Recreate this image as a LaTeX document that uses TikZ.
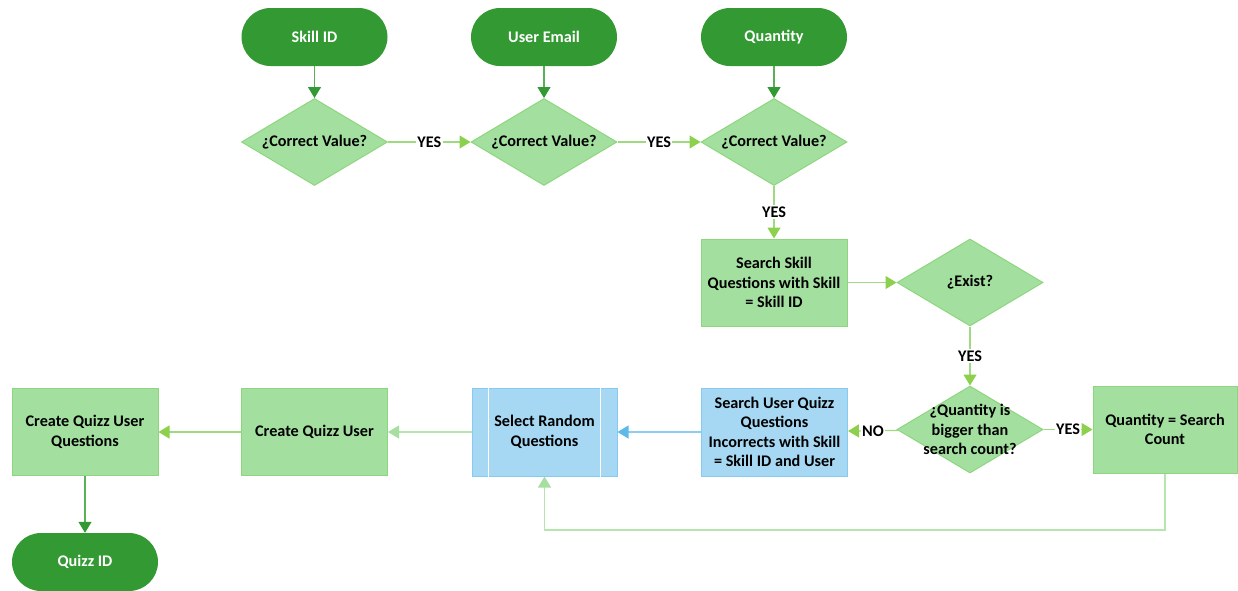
\documentclass[tikz,border=0pt]{standalone}
\usepackage{fontspec}
\setmainfont{Carlito}
\usetikzlibrary{shapes.geometric,arrows.meta}
\definecolor{dkgreen}{HTML}{339933}
\definecolor{midgreen}{HTML}{58B058}
\definecolor{ltfill}{HTML}{A3E0A0}
\definecolor{ltborder}{HTML}{8ED67E}
\definecolor{yesline}{HTML}{9FDA80}
\definecolor{yeshead}{HTML}{8CD04E}
\definecolor{paleline}{HTML}{B4E6AE}
\definecolor{palehead}{HTML}{A6DFA0}
\definecolor{bluefill}{HTML}{A6D8F4}
\definecolor{blueborder}{HTML}{86CBEF}
\definecolor{blueline}{HTML}{8ACFF2}
\definecolor{bluehead}{HTML}{5DB9EA}
\begin{document}
\begin{tikzpicture}[x=1pt,y=-1pt,
  font=\fontsize{16.2}{19.5}\selectfont\bfseries,
  term/.style={rectangle, rounded corners=29pt, fill=dkgreen, text=white,
    minimum width=146pt, minimum height=58pt, inner sep=0pt},
  dia/.style={diamond, draw=ltborder, fill=ltfill, line width=1pt, inner sep=0pt,
    aspect=1.68, minimum width=146pt, minimum height=87pt},
  pbox/.style={rectangle, draw=ltborder, fill=ltfill, line width=1pt,
    minimum width=146pt, minimum height=87pt, align=center, inner sep=2pt},
  bbox/.style={rectangle, draw=blueborder, fill=bluefill, line width=1pt,
    minimum width=146pt, minimum height=88pt, align=center, inner sep=2pt},
  dkarrow/.style={draw=midgreen, line width=1.2pt, -{Triangle[length=11pt,width=13pt,color=dkgreen]}},
  yesarrow/.style={draw=yesline, line width=1.2pt, -{Triangle[length=11pt,width=13pt,color=yeshead]}},
  palearrow/.style={draw=paleline, line width=1.2pt, -{Triangle[length=11pt,width=13pt,color=palehead]}},
  bluearrow/.style={draw=blueline, line width=1.2pt, -{Triangle[length=11pt,width=13pt,color=bluehead]}},
  lbl/.style={fill=white, inner sep=1.5pt, text=black}
]
\useasboundingbox (0,0) rectangle (1238,590);

% terminators
\node[term] (skill) at (314.5,37) {Skill ID};
\node[term] (email) at (544,37) {User Email};
\node[term] (qty) at (774,37) {Quantity};

% diamonds
\node[dia, label={center:¿Correct Value?}] (d1) at (314.5,142) {};
\node[dia, label={center:¿Correct Value?}] (d2) at (544,142) {};
\node[dia, label={center:¿Correct Value?}] (d3) at (774,142) {};

\node[pbox] (search) at (774,282.5) {Search Skill\\Questions with Skill\\= Skill ID};
\node[dia, label={center:¿Exist?}] (exist) at (970,282.5) {};
\node[dia, label={[align=center]center:¿Quantity is\\bigger than\\search count?}] (bigger) at (970,429.5) {};
\node[pbox, minimum width=144pt] (qsc) at (1165,429.5) {Quantity = Search\\Count};

\node[bbox] (suq) at (774.5,432) {Search User Quizz\\Questions\\Incorrects with Skill\\= Skill ID and User};
\node[bbox, minimum width=145pt] (sel) at (544.5,432) {Select Random\\Questions};
\draw[white, line width=1.2pt] ([xshift=17pt]sel.north west) -- ([xshift=17pt]sel.south west);
\draw[white, line width=1.2pt] ([xshift=-17pt]sel.north east) -- ([xshift=-17pt]sel.south east);

\node[pbox] (cqu) at (314.5,432) {Create Quizz User};
\node[pbox] (cquq) at (85,432) {Create Quizz User\\Questions};
\node[term] (quizz) at (85,562) {Quizz ID};

% connectors
\draw[dkarrow] (skill) -- (d1);
\draw[dkarrow] (email) -- (d2);
\draw[dkarrow] (qty) -- (d3);
\draw[yesarrow] (d1) -- node[lbl]{YES} (d2);
\draw[yesarrow] (d2) -- node[lbl]{YES} (d3);
\draw[yesarrow] (d3) -- node[lbl]{YES} (search);
\draw[yesarrow] (search) -- (exist);
\draw[yesarrow] (exist) -- node[lbl]{YES} (bigger);
\draw[yesarrow] (bigger) -- node[lbl]{YES} (qsc);
\draw[yesarrow] (bigger) -- node[lbl]{NO} (suq);
\draw[bluearrow] (suq) -- (sel);
\draw[palearrow] (sel) -- (cqu);
\draw[yesarrow] (cqu) -- (cquq);
\draw[dkarrow] (cquq) -- (quizz);
\coordinate (lp) at (1165,530);
\draw[palearrow] (qsc.south) -- (lp) -| (sel.south);
\end{tikzpicture}
\end{document}
